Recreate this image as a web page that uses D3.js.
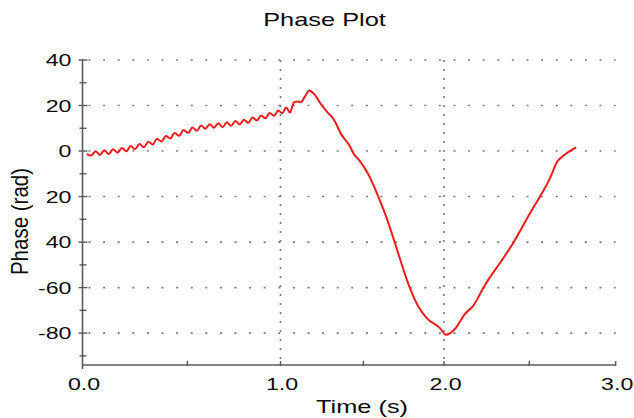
<!DOCTYPE html>
<html>
<head>
<meta charset="utf-8">
<script src="https://cdn.jsdelivr.net/npm/d3@7"></script>
<style>
  html, body { margin: 0; padding: 0; background: #fff; }
  svg { display: block; font-family: "Liberation Sans", Arial, sans-serif; }
</style>
</head>
<body>
<svg id="chart" width="634" height="418"></svg>
<script>
// Phase trace: sample times (s) and unwrapped phase (rad)
const timeS = [
  0.020, 0.041, 0.062, 0.083, 0.104, 0.125, 0.146, 0.167, 0.188, 0.209,
  0.230, 0.251, 0.272, 0.293, 0.314, 0.335, 0.356, 0.377, 0.398, 0.419,
  0.440, 0.461, 0.482, 0.505, 0.528, 0.551, 0.574, 0.597, 0.620, 0.643,
  0.666, 0.689, 0.712, 0.735, 0.758, 0.781, 0.804, 0.827, 0.850, 0.873,
  0.896, 0.919, 0.942, 0.965, 0.988, 1.011, 1.034, 1.057, 1.081, 1.107,
  1.122, 1.148, 1.174, 1.190, 1.208, 1.239, 1.279, 1.319, 1.370, 1.420,
  1.440, 1.480, 1.531, 1.593, 1.645, 1.686, 1.789, 1.841, 1.893, 1.975,
  2.012, 2.064, 2.123, 2.171, 2.230, 2.259, 2.328, 2.406, 2.504, 2.562,
  2.620, 2.662, 2.697, 2.736, 2.771
];
const phaseRad = [
  -1.3, -2.0, -0.1, -1.7, 0.3, -1.3, 0.8, -0.7, 1.3, -0.1,
  2.2, 0.8, 3.1, 1.7, 4.1, 2.9, 5.4, 4.2, 6.6, 5.5,
  7.9, 6.7, 9.2, 8.0, 10.3, 8.9, 11.2, 9.8, 11.8, 10.2,
  12.2, 10.5, 12.6, 11.1, 13.2, 11.7, 13.8, 12.4, 14.7, 13.4,
  15.6, 14.4, 16.7, 15.5, 17.8, 16.6, 19.1, 16.9, 21.4, 21.8,
  21.4, 24.0, 26.6, 25.9, 24.7, 21.1, 17.4, 14.2, 7.0, 2.0,
  -1.0, -4.4, -10.2, -20.0, -29.5, -38.2, -60.2, -68.3, -73.4, -77.8,
  -80.7, -78.2, -71.5, -68.0, -60.2, -56.6, -49.2, -40.4, -27.3, -20.0,
  -11.9, -4.6, -2.1, 0.1, 1.6
];

// Axis ticks and their labels
const xMajorTicks = [0, 1, 2, 3];
const xMajorLabels = ["0.0", "1.0", "2.0", "3.0"];
const xMinorTicks = [0.5, 1.5, 2.5];
const yMajorTicks = [40, 20, 0, -20, -40, -60, -80];
const yMajorLabels = ["40", "20", "0", "20", "40", "-60", "-80"];
const yMinorTicks = [30, 10, -10, -30, -50, -70, -90];
const xGridTicks = [1, 2];

const titleText = "Phase Plot";
const xTitle = "Time (s)";
const yTitle = "Phase (rad)";

const svg = d3.select("#chart");

// Time axis is piecewise linear between half-second marks
const x = d3.scaleLinear()
  .domain([0, 0.5, 1, 1.5, 2, 2.5, 3])
  .range([82.5, 187.3, 280.5, 363.3, 444, 529.3, 615.7]);
const y = d3.scaleLinear().domain([-94, 40]).range([365, 60]);

const axisColor = "#5a5a5a";
const gridColor = "#7a7a7a";
const textColor = "#0a0a0a";
const stretch = 1.45;

// Horizontal dotted grid
svg.append("g").selectAll("line")
  .data(yMajorTicks)
  .join("line")
  .attr("x1", x(0) + 6)
  .attr("x2", x(3))
  .attr("y1", d => y(d))
  .attr("y2", d => y(d))
  .attr("stroke", gridColor)
  .attr("stroke-width", 1.6)
  .attr("stroke-dasharray", "2,12.6");

// Vertical dotted grid
svg.append("g").selectAll("line")
  .data(xGridTicks)
  .join("line")
  .attr("x1", d => x(d))
  .attr("x2", d => x(d))
  .attr("y1", y(40))
  .attr("y2", y(-94))
  .attr("stroke", gridColor)
  .attr("stroke-width", 1.6)
  .attr("stroke-dasharray", "2,7");

// Axes
const yAxis = svg.append("g").attr("transform", `translate(${x(0)},0)`)
  .call(d3.axisLeft(y).tickValues(yMajorTicks).tickSize(0).tickFormat((d, i) => yMajorLabels[i]));
yAxis.select(".domain").remove();
yAxis.append("line")
  .attr("x1", 0).attr("x2", 0)
  .attr("y1", y(40) - 1).attr("y2", y(-94) + 4)
  .attr("stroke", axisColor).attr("stroke-width", 1.6);
yAxis.selectAll(".tick text")
  .attr("x", 0)
  .attr("dy", "0.36em")
  .attr("transform", `translate(-11,0) scale(${stretch},1)`)
  .attr("font-size", 16)
  .attr("font-family", "Liberation Sans, Arial, sans-serif")
  .attr("fill", textColor);
svg.append("g").selectAll("line")
  .data(yMajorTicks)
  .join("line")
  .attr("x1", x(0) - 4).attr("x2", x(0) + 5)
  .attr("y1", d => y(d)).attr("y2", d => y(d))
  .attr("stroke", axisColor).attr("stroke-width", 1.4);
svg.append("g").selectAll("line")
  .data(yMinorTicks)
  .join("line")
  .attr("x1", x(0) - 3).attr("x2", x(0) + 4)
  .attr("y1", d => y(d)).attr("y2", d => y(d))
  .attr("stroke", axisColor).attr("stroke-width", 1.4);

const xAxis = svg.append("g").attr("transform", `translate(0,${y(-94)})`)
  .call(d3.axisBottom(x).tickValues(xMajorTicks).tickSize(0).tickFormat((d, i) => xMajorLabels[i]));
xAxis.select(".domain").remove();
xAxis.append("line")
  .attr("x1", x(0)).attr("x2", x(3))
  .attr("y1", 0).attr("y2", 0)
  .attr("stroke", axisColor).attr("stroke-width", 1.6);
xAxis.selectAll(".tick text")
  .attr("y", 0)
  .attr("dy", 0)
  .attr("transform", `translate(1,25) scale(${stretch},1)`)
  .attr("font-size", 16)
  .attr("font-family", "Liberation Sans, Arial, sans-serif")
  .attr("fill", textColor);
svg.append("g").selectAll("line")
  .data(xMajorTicks.slice(1).concat(xMinorTicks))
  .join("line")
  .attr("x1", d => x(d)).attr("x2", d => x(d))
  .attr("y1", y(-94) - 4).attr("y2", y(-94) + 1)
  .attr("stroke", axisColor).attr("stroke-width", 1.4);

// Phase trace
const points = timeS.map((t, i) => [t, phaseRad[i]]);
const line = d3.line()
  .x(d => x(d[0]))
  .y(d => y(d[1]))
  .curve(d3.curveMonotoneX);
svg.append("path")
  .datum(points)
  .attr("d", line)
  .attr("fill", "none")
  .attr("stroke", "#ee1c1c")
  .attr("stroke-width", 2)
  .attr("stroke-linejoin", "round");

// Titles
svg.append("text")
  .attr("transform", `translate(324.5,26) scale(${stretch},1)`)
  .attr("text-anchor", "middle")
  .attr("font-size", 17.5)
  .attr("fill", textColor)
  .text(titleText);

svg.append("text")
  .attr("transform", `translate(362,412.5) scale(1.45,1)`)
  .attr("text-anchor", "middle")
  .attr("font-size", 17.5)
  .attr("fill", textColor)
  .text(xTitle);

svg.append("text")
  .attr("transform", `translate(28.3,221.5) rotate(-90) scale(1.14,1.3)`)
  .attr("text-anchor", "middle")
  .attr("font-size", 18)
  .attr("fill", textColor)
  .text(yTitle);
</script>
</body>
</html>
